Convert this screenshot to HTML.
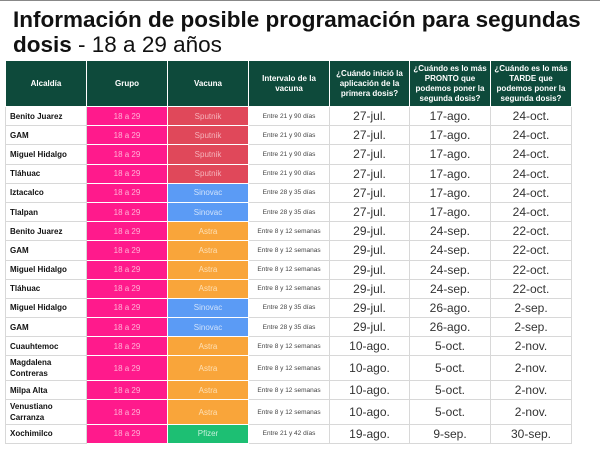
<!DOCTYPE html>
<html><head><meta charset="utf-8"><style>
body{margin:0;width:600px;height:450px;background:#fff;font-family:"Liberation Sans",sans-serif;overflow:hidden;position:relative;border-top:1px solid #888;box-sizing:border-box}
.t{position:absolute;left:13px;font-size:22.5px;color:#111;line-height:26px}
table{position:absolute;left:5px;top:59px;border-collapse:collapse;table-layout:fixed}
td,th{border:1px solid #d8d8d8;padding:0;text-align:center;overflow:hidden}
th{background:#0e4a3b;color:#fff;font-size:8px;font-weight:bold;height:45px;line-height:10px;border-color:#fff;padding:0 3px}
td{height:18.2px;font-size:12px;color:#333}
td.a{text-align:left;padding-left:4px;font-weight:bold;font-size:8px;color:#111;line-height:11px}
td.g{background:#ff1a8c;color:#ffb3d6;font-size:8px;border-color:#fff}
.sp{background:#e0485a;color:#f5b3bb;font-size:8px;border-color:#fff}
.si{background:#5b9bf5;color:#d0e2fb;font-size:8px;border-color:#fff}
.as{background:#f9a53a;color:#fde0b5;font-size:8px;border-color:#fff}
.pf{background:#1dbf73;color:#c5f0da;font-size:8px;border-color:#fff}
td.i{font-size:6.5px;color:#444}
tr.d td{height:23.6px}
</style></head><body>
<div class="t" style="top:6px;font-weight:bold">Información de posible programación para segundas</div>
<div class="t" style="top:31px"><b>dosis</b> - 18 a 29 años</div>
<table>
<colgroup><col style="width:81px"><col style="width:81px"><col style="width:81px"><col style="width:81px"><col style="width:80px"><col style="width:81px"><col style="width:81px"></colgroup>
<tr><th>Alcaldía</th><th>Grupo</th><th>Vacuna</th><th>Intervalo de la vacuna</th><th>¿Cuándo inició la aplicación de la primera dosis?</th><th>¿Cuándo es lo más PRONTO que podemos poner la segunda dosis?</th><th>¿Cuándo es lo más TARDE que podemos poner la segunda dosis?</th></tr>
<tr><td class="a">Benito Juarez</td><td class="g">18 a 29</td><td class="sp">Sputnik</td><td class="i">Entre 21 y 90 días</td><td>27-jul.</td><td>17-ago.</td><td>24-oct.</td></tr>
<tr><td class="a">GAM</td><td class="g">18 a 29</td><td class="sp">Sputnik</td><td class="i">Entre 21 y 90 días</td><td>27-jul.</td><td>17-ago.</td><td>24-oct.</td></tr>
<tr><td class="a">Miguel Hidalgo</td><td class="g">18 a 29</td><td class="sp">Sputnik</td><td class="i">Entre 21 y 90 días</td><td>27-jul.</td><td>17-ago.</td><td>24-oct.</td></tr>
<tr><td class="a">Tláhuac</td><td class="g">18 a 29</td><td class="sp">Sputnik</td><td class="i">Entre 21 y 90 días</td><td>27-jul.</td><td>17-ago.</td><td>24-oct.</td></tr>
<tr><td class="a">Iztacalco</td><td class="g">18 a 29</td><td class="si">Sinovac</td><td class="i">Entre 28 y 35 días</td><td>27-jul.</td><td>17-ago.</td><td>24-oct.</td></tr>
<tr><td class="a">Tlalpan</td><td class="g">18 a 29</td><td class="si">Sinovac</td><td class="i">Entre 28 y 35 días</td><td>27-jul.</td><td>17-ago.</td><td>24-oct.</td></tr>
<tr><td class="a">Benito Juarez</td><td class="g">18 a 29</td><td class="as">Astra</td><td class="i">Entre 8 y 12 semanas</td><td>29-jul.</td><td>24-sep.</td><td>22-oct.</td></tr>
<tr><td class="a">GAM</td><td class="g">18 a 29</td><td class="as">Astra</td><td class="i">Entre 8 y 12 semanas</td><td>29-jul.</td><td>24-sep.</td><td>22-oct.</td></tr>
<tr><td class="a">Miguel Hidalgo</td><td class="g">18 a 29</td><td class="as">Astra</td><td class="i">Entre 8 y 12 semanas</td><td>29-jul.</td><td>24-sep.</td><td>22-oct.</td></tr>
<tr><td class="a">Tláhuac</td><td class="g">18 a 29</td><td class="as">Astra</td><td class="i">Entre 8 y 12 semanas</td><td>29-jul.</td><td>24-sep.</td><td>22-oct.</td></tr>
<tr><td class="a">Miguel Hidalgo</td><td class="g">18 a 29</td><td class="si">Sinovac</td><td class="i">Entre 28 y 35 días</td><td>29-jul.</td><td>26-ago.</td><td>2-sep.</td></tr>
<tr><td class="a">GAM</td><td class="g">18 a 29</td><td class="si">Sinovac</td><td class="i">Entre 28 y 35 días</td><td>29-jul.</td><td>26-ago.</td><td>2-sep.</td></tr>
<tr><td class="a">Cuauhtemoc</td><td class="g">18 a 29</td><td class="as">Astra</td><td class="i">Entre 8 y 12 semanas</td><td>10-ago.</td><td>5-oct.</td><td>2-nov.</td></tr>
<tr class="d"><td class="a">Magdalena<br>Contreras</td><td class="g">18 a 29</td><td class="as">Astra</td><td class="i">Entre 8 y 12 semanas</td><td>10-ago.</td><td>5-oct.</td><td>2-nov.</td></tr>
<tr><td class="a">Milpa Alta</td><td class="g">18 a 29</td><td class="as">Astra</td><td class="i">Entre 8 y 12 semanas</td><td>10-ago.</td><td>5-oct.</td><td>2-nov.</td></tr>
<tr class="d"><td class="a">Venustiano<br>Carranza</td><td class="g">18 a 29</td><td class="as">Astra</td><td class="i">Entre 8 y 12 semanas</td><td>10-ago.</td><td>5-oct.</td><td>2-nov.</td></tr>
<tr><td class="a">Xochimilco</td><td class="g">18 a 29</td><td class="pf">Pfizer</td><td class="i">Entre 21 y 42 días</td><td>19-ago.</td><td>9-sep.</td><td>30-sep.</td></tr>
</table>
</body></html>
